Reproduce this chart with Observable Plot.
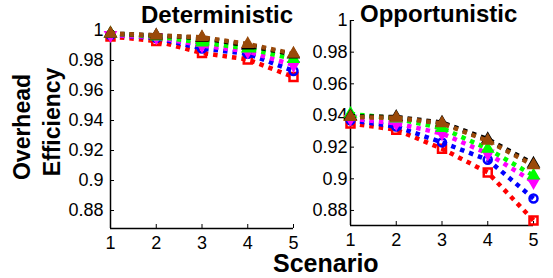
<!DOCTYPE html>
<html><head><meta charset="utf-8">
<script src="https://cdn.jsdelivr.net/npm/d3@7"></script>
<script src="https://cdn.jsdelivr.net/npm/@observablehq/plot@0.6"></script>
<style>
body{margin:0;background:#fff;}
#wrap{position:relative;width:553px;height:278px;font-family:"Liberation Sans",Arial,sans-serif;overflow:hidden;background:#fff}
#wrap svg{position:absolute;top:0;background:transparent}
.t{position:absolute;font-weight:bold;white-space:nowrap;line-height:1;color:#000}
</style></head><body><div id="wrap">
<div class="t" style="left:141px;top:3px;font-size:24px">Deterministic</div>
<div class="t" style="left:360px;top:2px;font-size:24px">Opportunistic</div>
<div class="t" style="left:273px;top:251px;font-size:25px">Scenario</div>
<div class="t" style="left:22px;top:127px;font-size:23px;transform:translate(-50%,-50%) rotate(-90deg)">Overhead</div>
<div class="t" style="left:52px;top:122px;font-size:23px;transform:translate(-50%,-50%) rotate(-90deg)">Efficiency</div>
</div>
<script>
const scenarios = [1, 2, 3, 4, 5];
const yTicks = [0.88, 0.9, 0.92, 0.94, 0.96, 0.98, 1];
const seriesKeys = ["red", "blue", "magenta", "green", "black", "brown"];

// Deterministic panel values
const detRed     = [0.996, 0.993, 0.985, 0.9807, 0.969];
const detBlue    = [0.997, 0.995, 0.988, 0.9845, 0.973];
const detMagenta = [0.997, 0.9955, 0.990, 0.986, 0.977];
const detGreen   = [0.998, 0.996, 0.992, 0.988, 0.981];
const detBlack   = [0.998, 0.9967, 0.995, 0.990, 0.984];
const detBrown   = [0.998, 0.9967, 0.9955, 0.991, 0.9845];

// Opportunistic panel values
const oppRed     = [0.935, 0.931, 0.919, 0.904, 0.8737];
const oppBlue    = [0.937, 0.933, 0.923, 0.912, 0.8876];
const oppMagenta = [0.938, 0.935, 0.9286, 0.916, 0.898];
const oppGreen   = [0.941, 0.938, 0.932, 0.919, 0.902];
const oppBlack   = [0.9395, 0.939, 0.9355, 0.925, 0.9095];
const oppBrown   = [0.939, 0.9385, 0.935, 0.924, 0.9085];

const styles = {
  red:     {color: "#ff0000", symbol: "square",   fill: "none",    rotate: 0,   r: 4.5},
  blue:    {color: "#0000ff", symbol: "circle",   fill: "none",    rotate: 0,   r: 4},
  magenta: {color: "#ff00ff", symbol: "triangle", fill: "#ff00ff", rotate: 180, r: 3.5},
  green:   {color: "#00ff00", symbol: "triangle", fill: "#00ff00", rotate: 0,   r: 3.5},
  black:   {color: "#000000", symbol: "triangle", fill: "none",    rotate: 0,   r: 3.5},
  brown:   {color: "#9a4a0a", symbol: "triangle", fill: "#9a4a0a", rotate: 0,   r: 3.5}
};

function rowsFor(arrs) {
  const rows = [];
  seriesKeys.forEach((k, i) => arrs[i].forEach((v, j) => rows.push({series: k, scenario: scenarios[j], value: v})));
  return rows;
}

const fmt = d => String(+d.toFixed(2));

function panel({rows, left, width, marginLeft, marginRight, marginTop, marginBottom, yDomain, yPad}) {
  const marks = [
    Plot.ruleX([1], {y1: yDomain[0], y2: 1, stroke: "#000", strokeWidth: 1.5}),
    Plot.ruleY([yDomain[0]], {x1: 1, x2: 5, stroke: "#000", strokeWidth: 1.5}),
    Plot.axisY({ticks: yTicks, tickSize: -4, tickPadding: yPad, tickFormat: fmt, fontSize: 18, stroke: "#000", strokeWidth: 1, label: null}),
    Plot.axisX({ticks: scenarios, tickSize: -4, tickPadding: 12, tickFormat: d => String(d), fontSize: 18, stroke: "#000", strokeWidth: 1, label: null})
  ];
  for (const k of seriesKeys) {
    const s = styles[k];
    const data = rows.filter(r => r.series === k);
    marks.push(Plot.line(data, {x: "scenario", y: "value", stroke: s.color, strokeWidth: 4.5, strokeDasharray: "4.5,5", strokeLinecap: "butt"}));
    marks.push(Plot.dot(data, {x: "scenario", y: "value", symbol: s.symbol, r: s.r, stroke: s.color, strokeWidth: 2.5, fill: s.fill, rotate: s.rotate}));
  }
  const svg = Plot.plot({
    width, height: 278, marginLeft, marginRight, marginTop, marginBottom,
    style: {fontFamily: "'Liberation Sans', Arial, sans-serif", color: "#000", background: "transparent", fontSize: "18px"},
    x: {domain: [1, 5], axis: null, label: null},
    y: {domain: yDomain, axis: null, label: null},
    marks
  });
  svg.style.left = left + "px";
  document.getElementById("wrap").appendChild(svg);
}

panel({
  rows: rowsFor([detRed, detBlue, detMagenta, detGreen, detBlack, detBrown]),
  left: 0, width: 300, marginLeft: 110, marginRight: 7, marginTop: 30, marginBottom: 50,
  yDomain: [0.868, 1], yPad: 11
});
panel({
  rows: rowsFor([oppRed, oppBlue, oppMagenta, oppGreen, oppBlack, oppBrown]),
  left: 240, width: 313, marginLeft: 110, marginRight: 20, marginTop: 20, marginBottom: 53,
  yDomain: [0.8705, 1], yPad: 7
});
</script>
</body></html>
